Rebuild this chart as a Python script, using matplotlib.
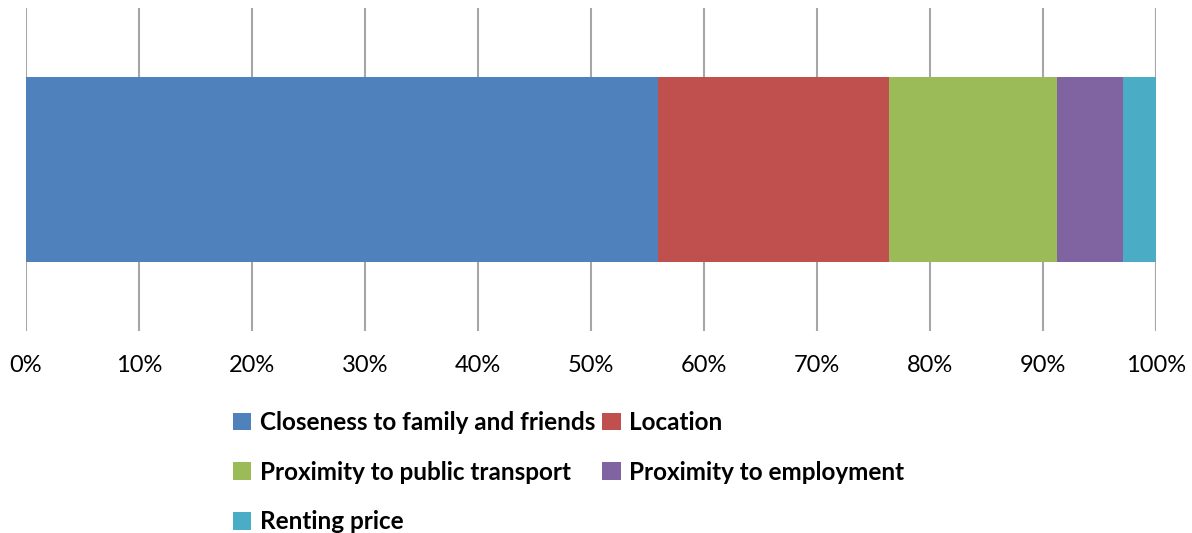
import matplotlib
matplotlib.use("Agg")
import matplotlib.pyplot as plt
from matplotlib.patches import Patch

categories = ["Closeness to family and friends", "Location",
              "Proximity to public transport", "Proximity to employment",
              "Renting price"]
values = [55.9, 20.5, 14.8, 5.9, 2.9]
colors = ["#4F81BD", "#C0504D", "#9BBB59", "#8064A2", "#4BACC6"]
ticks = list(range(0, 101, 10))
tick_labels = [f"{t}%" for t in ticks]

plt.rcParams['font.family'] = ['Lato', 'DejaVu Sans']

fig = plt.figure(figsize=(11.92, 5.33), dpi=100)
ax = fig.add_axes([26/1192, 1-331/533, 1130/1192, 323/533])

left = 0
handles = {}
for cat, v, c in zip(categories, values, colors):
    ax.barh(0, v, left=left, height=0.573, color=c, zorder=3)
    handles[cat] = Patch(facecolor=c, edgecolor='none')
    left += v

ax.set_xlim(0, 100)
ax.set_ylim(-0.5, 0.5)
ax.set_yticks([])
ax.set_xticks(ticks)
ax.set_xticklabels(tick_labels, fontsize=17)
ax.tick_params(axis='x', length=0, pad=17)
for s in ax.spines.values():
    s.set_visible(False)
ax.grid(axis='x', color='#A6A6A6', linewidth=1.5, zorder=0)

order = [0, 2, 4, 1, 3]
leg = fig.legend([handles[categories[i]] for i in order],
                 [categories[i] for i in order],
                 ncol=2, loc='upper left',
                 bbox_to_anchor=(233/1192, 1-411/533),
                 frameon=False, handlelength=0.75, handleheight=0.75,
                 handletextpad=0.35, columnspacing=0.3, labelspacing=1.1,
                 borderpad=0, borderaxespad=0,
                 prop={'size': 17.5, 'weight': 'bold'})

fig.savefig("out.png", dpi=100)
